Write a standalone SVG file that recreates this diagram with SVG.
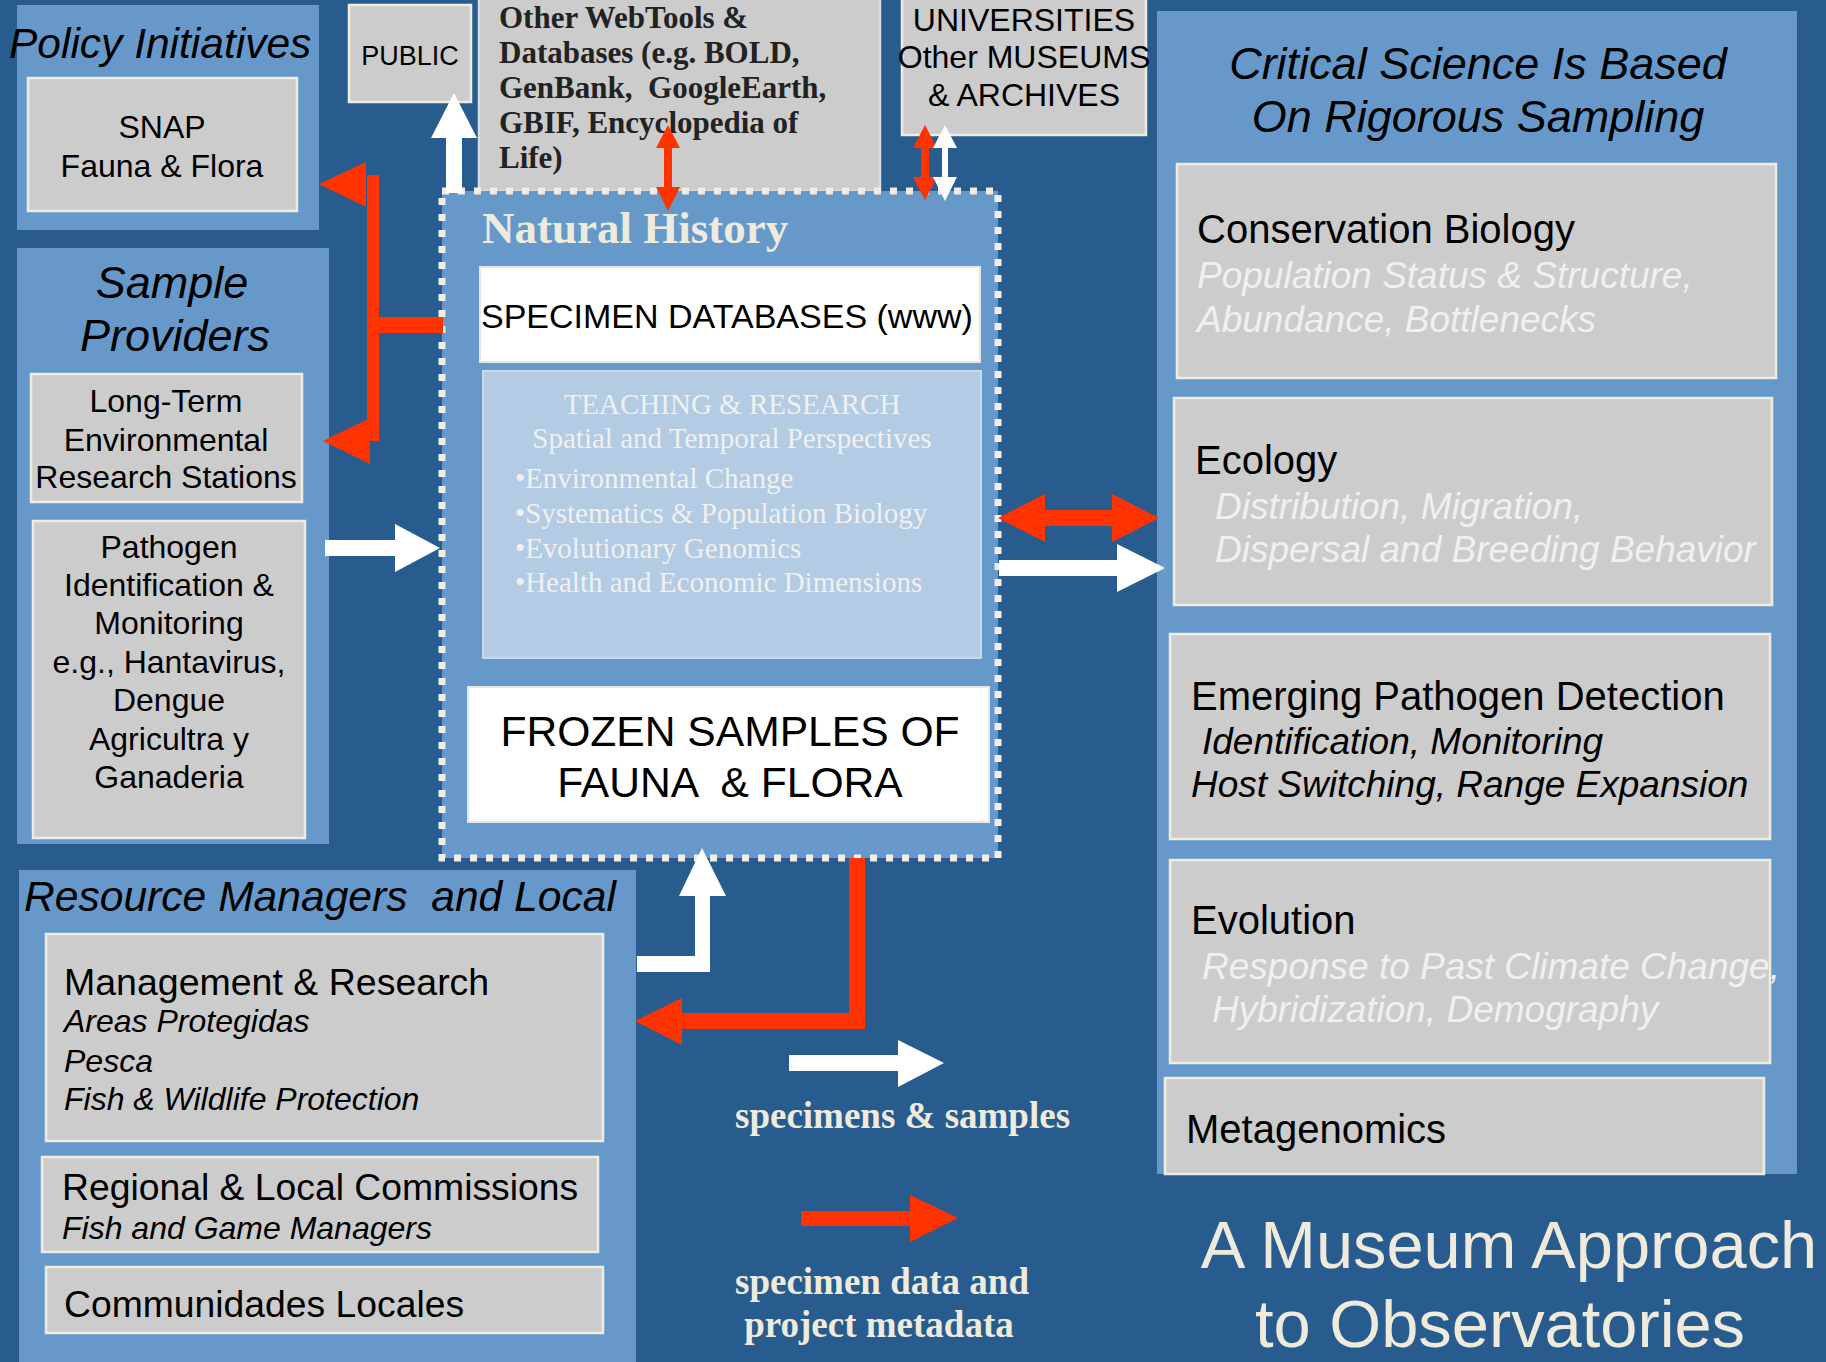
<svg xmlns="http://www.w3.org/2000/svg" width="1826" height="1362" viewBox="0 0 1826 1362">
<style>
.bg{fill:#285B8E}
.panel{fill:#6699C9}
.box{fill:#CCCCCC;stroke:#EDEDE4;stroke-width:2.5}
.wbox{fill:#FFFFFF;stroke:#E6E6E6;stroke-width:2}
.tbox{fill:#B3CBE3;stroke:#C9D9EA;stroke-width:2}
.s{font-family:"Liberation Sans",Arial,sans-serif;fill:#000}
.i{font-style:italic}
.f{font-family:"Liberation Serif","Times New Roman",serif}
.b{font-weight:bold}
.lt{fill:#F0F0F0}
.cream{fill:#EEEBDD}
.mid{text-anchor:middle}
.red{fill:#FF3300}
.wht{fill:#FFFFFF}
</style>
<rect class="bg" x="0" y="0" width="1826" height="1362"/>

<g id="policy-initiatives">
<rect class="panel" x="17" y="5" width="302" height="225"/>
<text class="s i" x="9" y="58" font-size="42.5">Policy Initiatives</text>
</g>
<g id="snap">
<rect class="box" x="28" y="78" width="269" height="133"/>
<text class="s mid" x="162" y="138" font-size="32">SNAP</text>
<text class="s mid" x="162" y="177" font-size="32">Fauna &amp; Flora</text>
</g>
<g id="public">
<rect class="box" x="349" y="5" width="122" height="97"/>
<text class="s mid" x="410" y="65" font-size="27">PUBLIC</text>
</g>
<g id="sample-providers">
<rect class="panel" x="17" y="248" width="312" height="596"/>
<text class="s i mid" x="172" y="298" font-size="45">Sample</text>
<text class="s i mid" x="175" y="351" font-size="45">Providers</text>
</g>
<g id="long-term">
<rect class="box" x="31" y="374" width="271" height="128"/>
<text class="s mid" x="166" y="412" font-size="32">Long-Term</text>
<text class="s mid" x="166" y="451" font-size="32">Environmental</text>
<text class="s mid" x="166" y="488" font-size="32">Research Stations</text>
</g>
<g id="pathogen">
<rect class="box" x="33" y="521" width="272" height="317"/>
<text class="s mid" x="169" y="558" font-size="32">Pathogen</text>
<text class="s mid" x="169" y="596" font-size="32">Identification &amp;</text>
<text class="s mid" x="169" y="634" font-size="32">Monitoring</text>
<text class="s mid" x="169" y="673" font-size="32">e.g., Hantavirus,</text>
<text class="s mid" x="169" y="711" font-size="32">Dengue</text>
<text class="s mid" x="169" y="750" font-size="32">Agricultra y</text>
<text class="s mid" x="169" y="788" font-size="32">Ganaderia</text>
</g>
<g id="resource-managers">
<rect class="panel" x="19" y="870" width="617" height="500"/>
<text class="s i" x="24" y="911" font-size="42.6" xml:space="preserve">Resource Managers  and Local</text>
</g>
<g id="management">
<rect class="box" x="46" y="934" width="557" height="207"/>
<text class="s" x="64" y="995" font-size="37.5">Management &amp; Research</text>
<text class="s i" x="64" y="1032" font-size="32">Areas Protegidas</text>
<text class="s i" x="64" y="1072" font-size="32">Pesca</text>
<text class="s i" x="64" y="1110" font-size="32">Fish &amp; Wildlife Protection</text>
</g>
<g id="regional">
<rect class="box" x="42" y="1157" width="556" height="95"/>
<text class="s" x="62" y="1200" font-size="37.3">Regional &amp; Local Commissions</text>
<text class="s i" x="62" y="1239" font-size="32">Fish and Game Managers</text>
</g>
<g id="communidades">
<rect class="box" x="46" y="1267" width="557" height="66"/>
<text class="s" x="64" y="1317" font-size="37.3">Communidades Locales</text>
</g>

<g id="webtools">
<rect x="479" y="-5" width="401" height="196" fill="#CCCCCC" stroke="#D3DDEC" stroke-width="2.5"/>
<text class="f b" fill="#222" x="499" y="28" font-size="31">Other WebTools &amp;</text>
<text class="f b" fill="#222" x="499" y="63" font-size="31">Databases (e.g. BOLD,</text>
<text class="f b" fill="#222" x="499" y="98" font-size="31" xml:space="preserve">GenBank,  GoogleEarth,</text>
<text class="f b" fill="#222" x="499" y="133" font-size="31">GBIF, Encyclopedia of</text>
<text class="f b" fill="#222" x="499" y="168" font-size="31">Life)</text>
</g>
<g id="universities">
<rect class="box" x="902" y="-5" width="244" height="140"/>
<text class="s mid" x="1024" y="31" font-size="32">UNIVERSITIES</text>
<text class="s mid" x="1024" y="68" font-size="32">Other MUSEUMS</text>
<text class="s mid" x="1024" y="106" font-size="32">&amp; ARCHIVES</text>
</g>

<g id="natural-history">
<rect x="442" y="191" width="556" height="667" fill="#6699C9" stroke="#F0EEE4" stroke-width="7" stroke-dasharray="7 9"/>
<text class="f b cream" x="482" y="243" font-size="45">Natural History</text>
</g>
<g id="specimen-databases">
<rect class="wbox" x="480" y="267" width="500" height="95"/>
<text class="s" x="481" y="328" font-size="34">SPECIMEN DATABASES (www)</text>
</g>
<g id="teaching-research">
<rect class="tbox" x="483" y="371" width="498" height="287"/>
<text class="f lt mid" x="732" y="414" font-size="29">TEACHING &amp; RESEARCH</text>
<text class="f lt mid" x="732" y="448" font-size="29">Spatial and Temporal Perspectives</text>
<text class="f lt" x="515" y="488" font-size="29">•Environmental Change</text>
<text class="f lt" x="515" y="523" font-size="29">•Systematics &amp; Population Biology</text>
<text class="f lt" x="515" y="558" font-size="29">•Evolutionary Genomics</text>
<text class="f lt" x="515" y="592" font-size="29">•Health and Economic Dimensions</text>
</g>
<g id="frozen-samples">
<rect class="wbox" x="468" y="687" width="521" height="135"/>
<text class="s mid" x="730" y="746" font-size="42.6">FROZEN SAMPLES OF</text>
<text class="s mid" x="730" y="797" font-size="42.6" xml:space="preserve">FAUNA  &amp; FLORA</text>
</g>

<g id="critical-science">
<rect class="panel" x="1157" y="11" width="640" height="1163"/>
<text class="s i mid" x="1478" y="79" font-size="45">Critical Science Is Based</text>
<text class="s i mid" x="1478" y="132" font-size="45">On Rigorous Sampling</text>
</g>
<g id="conservation-biology">
<rect class="box" x="1177" y="164" width="599" height="214"/>
<text class="s" x="1197" y="243" font-size="40">Conservation Biology</text>
<text class="s i lt" x="1197" y="288" font-size="37">Population Status &amp; Structure,</text>
<text class="s i lt" x="1197" y="332" font-size="37">Abundance, Bottlenecks</text>
</g>
<g id="ecology">
<rect class="box" x="1174" y="398" width="598" height="207"/>
<text class="s" x="1195" y="474" font-size="40">Ecology</text>
<text class="s i lt" x="1215" y="519" font-size="37">Distribution, Migration,</text>
<text class="s i lt" x="1215" y="562" font-size="37">Dispersal and Breeding Behavior</text>
</g>
<g id="emerging-pathogen">
<rect class="box" x="1170" y="634" width="600" height="205"/>
<text class="s" x="1191" y="710" font-size="40">Emerging Pathogen Detection</text>
<text class="s i" x="1202" y="754" font-size="37">Identification, Monitoring</text>
<text class="s i" x="1191" y="797" font-size="37">Host Switching, Range Expansion</text>
</g>
<g id="evolution">
<rect class="box" x="1170" y="860" width="600" height="203"/>
<text class="s" x="1191" y="934" font-size="40">Evolution</text>
<text class="s i lt" x="1202" y="979" font-size="37">Response to Past Climate Change,</text>
<text class="s i lt" x="1212" y="1022" font-size="37">Hybridization, Demography</text>
</g>
<g id="metagenomics">
<rect class="box" x="1165" y="1078" width="599" height="96"/>
<text class="s" x="1186" y="1143" font-size="40">Metagenomics</text>
</g>

<g id="title">
<text class="s cream mid" x="1509" y="1268" font-size="66.8">A Museum Approach</text>
<text class="s cream mid" x="1500" y="1347" font-size="66.8">to Observatories</text>
</g>

<g id="legend">
<polygon class="wht" points="789,1055 898,1055 898,1040 944,1063 898,1087 898,1071 789,1071"/>
<text class="f b cream" x="735" y="1128" font-size="37">specimens &amp; samples</text>
<polygon class="red" points="801,1211 910,1211 910,1195 958,1218 910,1242 910,1226 801,1226"/>
<text class="f b cream mid" x="882" y="1294" font-size="37">specimen data and</text>
<text class="f b cream mid" x="879" y="1337" font-size="37">project metadata</text>
</g>

<g id="connectors">
<polygon class="wht" points="446,193 446,138 431,138 454,93 477,138 462,138 462,193"/>
<polygon class="red" points="668,125 680,148 672,148 672,187 680,187 668,211 656,187 664,187 664,148 656,148"/>
<polygon class="red" points="925,125 937,148 929,148 929,177 937,177 925,200 913,177 921,177 921,148 913,148"/>
<polygon class="wht" points="945,125 957,148 948,148 948,177 957,177 945,201 933,177 942,177 942,148 933,148"/>
<rect class="red" x="367" y="175" width="12" height="266"/>
<rect class="red" x="379" y="317" width="64" height="16"/>
<polygon class="red" points="319,184 366,162 366,207"/>
<polygon class="red" points="323,441 370,418 370,464"/>
<polygon class="wht" points="325,540 395,540 395,524 440,548 395,572 395,556 325,556"/>
<polygon class="red" points="998,518 1045,494 1045,510 1112,510 1112,494 1159,518 1112,542 1112,526 1045,526 1045,542"/>
<polygon class="wht" points="999,560 1117,560 1117,544 1165,568 1117,592 1117,576 999,576"/>
<polygon class="wht" points="637,956 695,956 695,896 679,896 702,848 726,896 710,896 710,972 637,972"/>
<polygon class="red" points="849,858 865,858 865,1029 682,1029 682,1045 635,1021 682,998 682,1013 849,1013"/>
</g>
</svg>
